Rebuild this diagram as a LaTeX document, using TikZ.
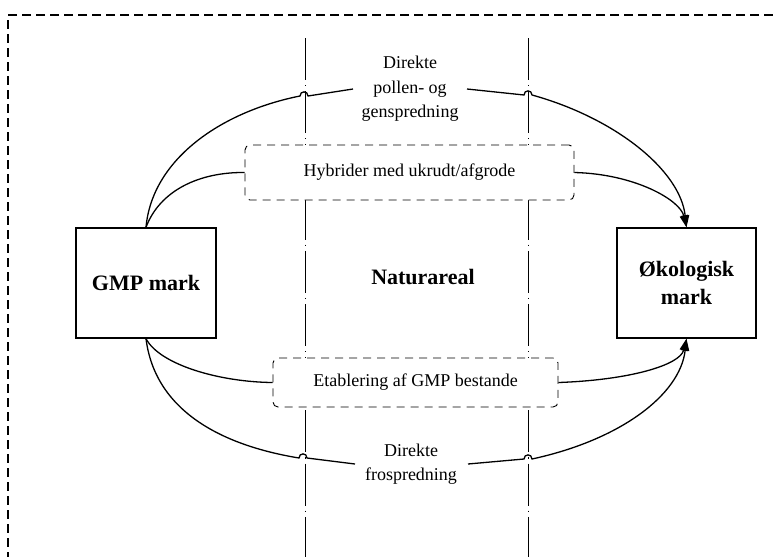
\documentclass[tikz,border=0pt]{standalone}
\usepackage{fontspec}
\setmainfont{Liberation Serif}
\usetikzlibrary{arrows.meta}
\tikzset{
  mainbox/.style={draw, line width=1.4pt, fill=white, minimum width=140pt, minimum height=110pt, inner sep=0pt,
    font=\fontsize{22}{28}\selectfont\bfseries, align=center},
  dashbox/.style={draw, line width=0.9pt, dash pattern=on 8pt off 6pt, rounded corners=5pt, fill=white,
    inner sep=0pt, font=\fontsize{18}{24}\selectfont},
  lbl/.style={font=\fontsize{18}{24.5}\selectfont, align=center, inner sep=0pt},
  zone/.style={line width=0.9pt, dash pattern=on 42pt off 5pt on 1.2pt off 5pt},
  frame/.style={line width=1.6pt, dash pattern=on 9pt off 5pt},
  flow/.style={line width=1.3pt},
  flowarrow/.style={line width=1.3pt, -{Triangle[length=12pt,width=8pt]}}
}
\begin{document}
\begin{tikzpicture}[x=1pt,y=-1pt]
\useasboundingbox (0,0) rectangle (773,557);
% outer dashed frame (only top and left edges visible)
\coordinate (fr1) at (773,15);
\coordinate (fr2) at (8,15);
\coordinate (fr3) at (8,557);
\draw[frame] (fr1) -- (fr2) -- (fr3);
% zone lines
\coordinate (zl1) at (305,38);
\coordinate (zl2) at (305,557);
\coordinate (zr1) at (528,38);
\coordinate (zr2) at (528,557);
\draw[zone] (zl1) -- (zl2);
\draw[zone] (zr1) -- (zr2);
% boxes
\node[mainbox] (gmp) at (146,283) {GMP mark};
\node[mainbox, minimum width=139pt] (oko) at (686.5,283) {Økologisk\\mark};
\node[dashbox, minimum width=329pt, minimum height=55pt] (hyb) at (409.5,172.5) {Hybrider med ukrudt/afgrode};
\node[dashbox, minimum width=285pt, minimum height=49pt] (etab) at (415.5,382.5) {Etablering af GMP bestande};
\node[font=\fontsize{22}{28}\selectfont\bfseries] (nat) at (423,277) {Naturareal};
% labels of direct spread
\node[lbl] (toptxt) at (410,89) {Direkte\\pollen- og\\genspredning};
\node[lbl] (bottxt) at (411,464) {Direkte\\frospredning};
\coordinate (ta) at (353,89);
\coordinate (tb) at (467,89);
\coordinate (ba) at (355,464);
\coordinate (bb) at (468,464);
% top outer curve
\draw[flow] (gmp.north) .. controls (152,160) and (220,112) .. (300,96)
  .. controls (300,90.5) and (308,90.5) .. (308,96) -- (ta);
\draw[flowarrow] (tb) -- (524,95)
  .. controls (524,89.5) and (532,89.5) .. (532,95)
  .. controls (615,118) and (680,170) .. (oko.north);
% hybrid curves
\draw[flow] (gmp.north) .. controls (160,190) and (200,172) .. (hyb.west);
\draw[flowarrow] (hyb.east) .. controls (635,174) and (680,200) .. (oko.north);
% etablering curves
\draw[flow] (gmp.south) .. controls (160,365) and (220,382) .. (etab.west);
\draw[flowarrow] (etab.east) .. controls (630,380) and (680,365) .. (oko.south);
% bottom outer curve
\draw[flow] (gmp.south) .. controls (155,410) and (220,445) .. (299,458)
  .. controls (299,452.5) and (307,452.5) .. (307,458) -- (ba);
\draw[flowarrow] (bb) -- (524,459)
  .. controls (524,453.5) and (532,453.5) .. (532,459)
  .. controls (620,440) and (680,395) .. (oko.south);
\end{tikzpicture}
\end{document}
